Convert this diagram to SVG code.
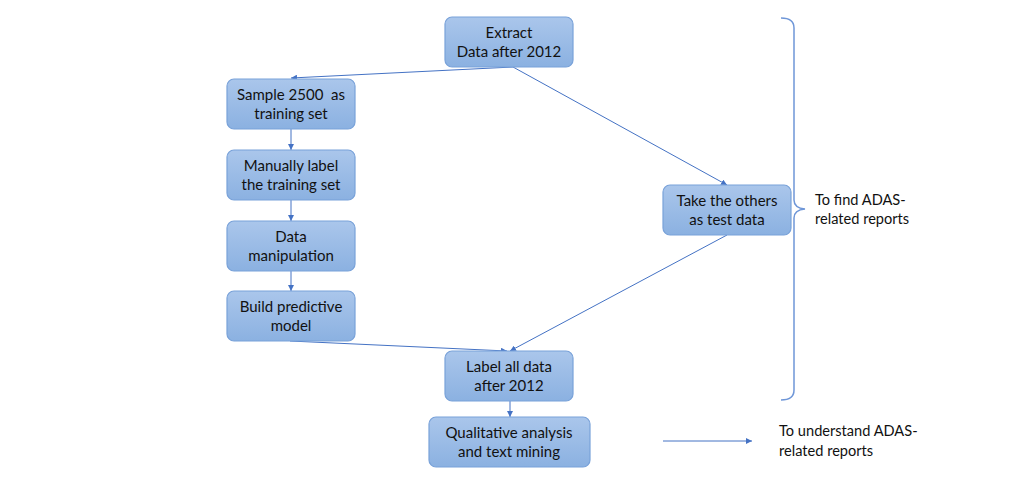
<svg xmlns="http://www.w3.org/2000/svg" width="1015" height="486" viewBox="0 0 1015 486">
<defs>
<linearGradient id="g" x1="0" y1="0" x2="0" y2="1">
<stop offset="0" stop-color="#aac6eb"/>
<stop offset="1" stop-color="#8bb1e1"/>
</linearGradient>
<marker id="ah" viewBox="0 0 10 10" refX="10" refY="5" markerWidth="6" markerHeight="6" orient="auto" markerUnits="userSpaceOnUse">
<path d="M0,0 L10,5 L0,10 z" fill="#4472c4"/>
</marker>
</defs>
<style>
.box{fill:url(#g);stroke:#79a2d9;stroke-width:1.2}
.t{font-family:Lato,"Open Sans","Liberation Sans",sans-serif;font-size:15px;fill:#111111;text-anchor:middle;white-space:pre}
.n{font-family:Lato,"Open Sans","Liberation Sans",sans-serif;font-size:14.6px;fill:#111111}
.c{stroke:#4472c4;stroke-width:1;fill:none;marker-end:url(#ah)}
.br{stroke:#6f97d8;stroke-width:1.5;fill:none}
</style>
<rect width="1015" height="486" fill="#ffffff"/>
<g id="connectors">
<line class="c" x1="513" y1="67" x2="291" y2="78"/>
<line class="c" x1="513" y1="67" x2="727" y2="185"/>
<line class="c" x1="291" y1="129" x2="291" y2="150"/>
<line class="c" x1="291" y1="200" x2="291" y2="221"/>
<line class="c" x1="291" y1="271" x2="291" y2="291"/>
<line class="c" x1="290" y1="341" x2="507" y2="351"/>
<line class="c" x1="727" y1="235" x2="510" y2="351"/>
<line class="c" x1="510" y1="401" x2="510" y2="417"/>
<line class="c" x1="663" y1="441" x2="752" y2="441"/>
</g>
<g id="n-extract"><rect class="box" x="445" y="17" width="128" height="50" rx="7"/><text class="t" x="509" y="38">Extract</text><text class="t" x="509" y="57">Data after 2012</text></g>
<g id="n-sample"><rect class="box" x="227" y="79" width="128" height="50" rx="7"/><text class="t" x="291" y="100" xml:space="preserve">Sample 2500  as</text><text class="t" x="291" y="119">training set</text></g>
<g id="n-manual"><rect class="box" x="227" y="150" width="128" height="50" rx="7"/><text class="t" x="291" y="171">Manually label</text><text class="t" x="291" y="190">the training set</text></g>
<g id="n-data"><rect class="box" x="227" y="221" width="128" height="50" rx="7"/><text class="t" x="291" y="242">Data</text><text class="t" x="291" y="261">manipulation</text></g>
<g id="n-build"><rect class="box" x="227" y="291" width="128" height="50" rx="7"/><text class="t" x="291" y="312">Build predictive</text><text class="t" x="291" y="331">model</text></g>
<g id="n-test"><rect class="box" x="663" y="185" width="128" height="50" rx="7"/><text class="t" x="727" y="206">Take the others</text><text class="t" x="727" y="225">as test data</text></g>
<g id="n-label"><rect class="box" x="445" y="351" width="128" height="50" rx="7"/><text class="t" x="509" y="372">Label all data</text><text class="t" x="509" y="391">after 2012</text></g>
<g id="n-qual"><rect class="box" x="429" y="417" width="161" height="50" rx="7"/><text class="t" x="509" y="438">Qualitative analysis</text><text class="t" x="509" y="457">and text mining</text></g>
<g id="brace"><path class="br" d="M781,18 Q794,18 794,28 L794,200 Q794,208 805,209 Q794,210 794,218 L794,390 Q794,400 781,400"/></g>
<g id="labels">
<text class="n" x="815" y="205">To find ADAS-</text>
<text class="n" x="815" y="224">related reports</text>
<text class="n" x="779" y="436">To understand ADAS-</text>
<text class="n" x="779" y="456">related reports</text>
</g>
</svg>
